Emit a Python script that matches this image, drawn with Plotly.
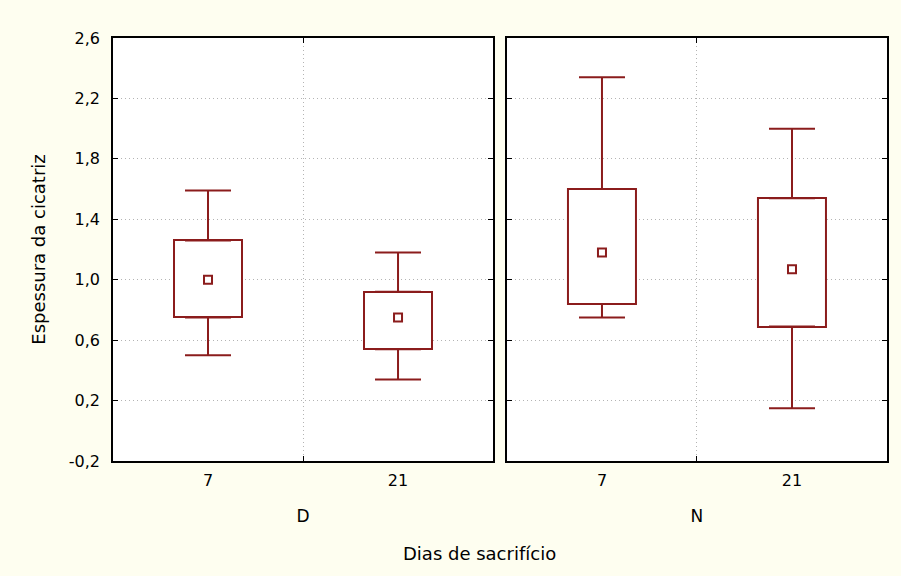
import plotly.graph_objects as go

# Data
groups = ["D", "N"]
days = ["7", "21"]
minimum = {"D": [0.50, 0.34], "N": [0.75, 0.15]}
q1 = {"D": [0.75, 0.54], "N": [0.84, 0.69]}
median = {"D": [1.00, 0.75], "N": [1.18, 1.07]}
q3 = {"D": [1.26, 0.92], "N": [1.60, 1.54]}
maximum = {"D": [1.59, 1.18], "N": [2.34, 2.00]}
y_ticks = [-0.2, 0.2, 0.6, 1.0, 1.4, 1.8, 2.2, 2.6]
y_ticktext = [f"{v:.1f}".replace(".", ",") for v in y_ticks]

RED = "#8b1c1c"
BG = "#fefef0"
FONT = "DejaVu Sans"
GRID = "#b4b4b4"

fig = go.Figure()
pos = list(range(len(days)))

for gi, g in enumerate(groups):
    xa = "x" if gi == 0 else "x2"
    ya = "y" if gi == 0 else "y2"
    # box (q1..q3)
    fig.add_trace(go.Bar(
        x=pos, y=[b - a for a, b in zip(q1[g], q3[g])], base=q1[g],
        width=0.36, marker=dict(color="white", line=dict(color=RED, width=2)),
        xaxis=xa, yaxis=ya, showlegend=False, hoverinfo="skip"))
    # upper whisker
    fig.add_trace(go.Scatter(
        x=pos, y=q3[g], mode="markers",
        marker=dict(color="rgba(0,0,0,0)", size=1),
        error_y=dict(type="data", symmetric=False,
                     array=[m - q for m, q in zip(maximum[g], q3[g])],
                     arrayminus=[0] * len(pos), color=RED, thickness=2, width=23),
        xaxis=xa, yaxis=ya, showlegend=False, hoverinfo="skip"))
    # lower whisker
    fig.add_trace(go.Scatter(
        x=pos, y=q1[g], mode="markers",
        marker=dict(color="rgba(0,0,0,0)", size=1),
        error_y=dict(type="data", symmetric=False,
                     array=[0] * len(pos),
                     arrayminus=[q - m for m, q in zip(minimum[g], q1[g])],
                     color=RED, thickness=2, width=23),
        xaxis=xa, yaxis=ya, showlegend=False, hoverinfo="skip"))
    # median marker
    fig.add_trace(go.Scatter(
        x=pos, y=median[g], mode="markers",
        marker=dict(symbol="square", size=8, color="white",
                    line=dict(color=RED, width=2)),
        xaxis=xa, yaxis=ya, showlegend=False))

axis_common = dict(
    range=[-0.5, 1.5], tickvals=[0.5], showticklabels=False,
    ticks="inside", ticklen=5, tickcolor="black",
    showgrid=True, gridcolor=GRID, griddash="1px,3px", gridwidth=1,
    showline=True, linecolor="black", linewidth=1.5, mirror="ticks",
    zeroline=False, fixedrange=True)

label_common = dict(
    range=[-0.5, 1.5], tickvals=pos, ticktext=days, ticks="",
    showgrid=False, showline=False, zeroline=False,
    tickfont=dict(family=FONT, size=16, color="black"),
    ticklabelstandoff=8,
    title=dict(font=dict(family=FONT, size=17, color="black"), standoff=21))

yaxis_common = dict(
    range=[-0.2, 2.6], tickvals=y_ticks, ticktext=y_ticktext,
    ticks="inside", ticklen=5, tickcolor="black",
    showgrid=True, gridcolor=GRID, griddash="1px,3px", gridwidth=1,
    showline=True, linecolor="black", linewidth=1.5, mirror="ticks",
    zeroline=False, fixedrange=True)

fig.update_layout(
    width=901, height=576,
    margin=dict(l=113, r=14, t=38, b=115),
    paper_bgcolor=BG, plot_bgcolor="white",
    font=dict(family=FONT, size=16, color="black"),
    bargap=0,
    xaxis=dict(domain=[0, 0.491], anchor="y", **axis_common),
    xaxis2=dict(domain=[0.509, 1], anchor="y2", **axis_common),
    xaxis3=dict(overlaying="x", anchor="y", side="bottom",
                title_text=groups[0], **label_common),
    xaxis4=dict(overlaying="x2", anchor="y2", side="bottom",
                title_text=groups[1], **label_common),
    yaxis=dict(anchor="x", tickfont=dict(family=FONT, size=16),
               ticklabelstandoff=8,
               title=dict(text="Espessura da cicatriz",
                          font=dict(family=FONT, size=18), standoff=19),
               **yaxis_common),
    yaxis2=dict(anchor="x2", matches="y", showticklabels=False, **yaxis_common),
    annotations=[dict(text="Dias de sacrifício", xref="paper", yref="paper",
                      x=0.474, y=-0.2175, xanchor="center", yanchor="middle",
                      showarrow=False, font=dict(family=FONT, size=18))],
)

# dummy traces so overlay label axes are rendered
for xa, ya in (("x3", "y"), ("x4", "y2")):
    fig.add_trace(go.Scatter(x=[0], y=[None], xaxis=xa, yaxis=ya,
                             showlegend=False, hoverinfo="skip"))

fig.write_html("out.html", config={"displayModeBar": False},
               post_script="document.body.style.margin='0';document.body.style.background='" + BG + "';")
